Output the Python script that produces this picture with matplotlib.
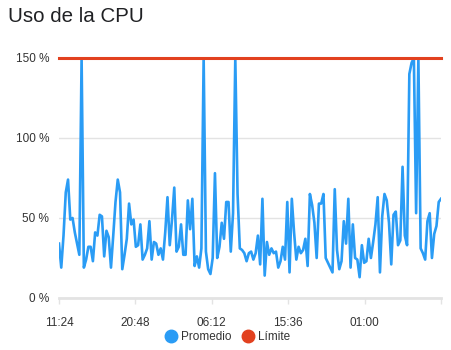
import numpy as np
import pandas as pd
import matplotlib
matplotlib.use('Agg')
import matplotlib.pyplot as plt
import matplotlib.dates as mdates
from matplotlib.lines import Line2D

plt.rcParams['font.family'] = ['Liberation Sans', 'DejaVu Sans']

# Uso medio de la CPU (%), una muestra cada ~17 min
promedio = [
    34, 19, 39, 66, 74, 49, 50, 41, 34, 27,
    150, 19, 24, 32, 32, 23, 41, 39, 52, 51,
    26, 42, 38, 19, 39, 60, 74, 66, 18, 27,
    37, 59, 46, 49, 32, 33, 46, 24, 27, 31,
    48, 24, 35, 34, 27, 31, 24, 41, 63, 33,
    49, 69, 29, 32, 46, 27, 27, 61, 43, 62,
    20, 26, 19, 31, 150, 29, 18, 15, 25, 78,
    25, 32, 47, 37, 60, 60, 29,
    53, 150, 65, 31, 30, 28, 23, 28, 29, 24,
    28, 39, 21, 62, 14, 35, 27, 31, 28, 29,
    19, 23, 32, 24, 60, 16, 62, 41, 24, 32,
    28, 30, 37, 20, 65, 58, 47, 25, 59, 59,
    65, 25, 22, 19, 16, 68, 30, 18, 23, 48,
    34, 62, 19, 46, 25, 24, 13, 33, 22, 23,
    37, 25, 35, 46, 63, 16, 51, 65, 61, 47,
    21, 52, 54, 33, 36, 82, 39, 33, 140, 147,
    150, 53, 150, 31, 28, 24, 48, 53, 25, 40,
    45, 60, 62,
]
limite = 150

inicio = pd.Timestamp('2024-01-01 11:24')
fin = inicio + pd.Timedelta(hours=47)
tiempos = pd.date_range(inicio, fin, periods=len(promedio))
ticks = pd.date_range(inicio, fin, freq='564min')
tick_labels = [t.strftime('%H:%M') for t in ticks[:-1]] + ['']

azul = '#2a9cf5'
rojo = '#e2411f'

fig = plt.figure(figsize=(4.51, 3.5), dpi=100)
ax = fig.add_axes([0.1308, 0.1486, 0.8470, 0.6857])

ax.plot(tiempos, promedio, color=azul, lw=1.9, solid_joinstyle='round')
ax.axhline(limite, color=rojo, lw=2.2, clip_on=False, zorder=3)

ax.set_ylim(0, 150)
ax.set_xlim(inicio, fin)
ax.set_yticks([0, 50, 100, 150])
ax.set_yticklabels(['0 %', '50 %', '100 %', '150 %'])
ax.set_xticks(ticks)
ax.set_xticklabels(tick_labels)

ax.grid(axis='y', color='#e3e3e3', lw=1)
ax.set_axisbelow(True)
for s in ['top', 'right', 'left']:
    ax.spines[s].set_visible(False)
ax.spines['bottom'].set_color('#e3e3e3')
ax.spines['bottom'].set_linewidth(2)
ax.tick_params(axis='y', length=0, pad=7, labelsize=8.5, labelcolor='#333333')
ax.tick_params(axis='x', length=4, width=1, color='#e3e3e3', pad=10,
               labelsize=8.5, labelcolor='#333333')

fig.text(0.018, 0.952, 'Uso de la CPU', fontsize=14.8, color='#202124',
         ha='left', va='center')

handles = [
    Line2D([], [], marker='o', ls='', color=azul, markersize=9),
    Line2D([], [], marker='o', ls='', color=rojo, markersize=9),
]
fig.legend(handles, ['Promedio', 'Límite'], loc='center',
           bbox_to_anchor=(0.505, 0.037), ncol=2, frameon=False,
           fontsize=8.5, handletextpad=0.35, columnspacing=0.9,
           handlelength=1.0, labelcolor='#333333')

fig.savefig('out.png', dpi=100)
